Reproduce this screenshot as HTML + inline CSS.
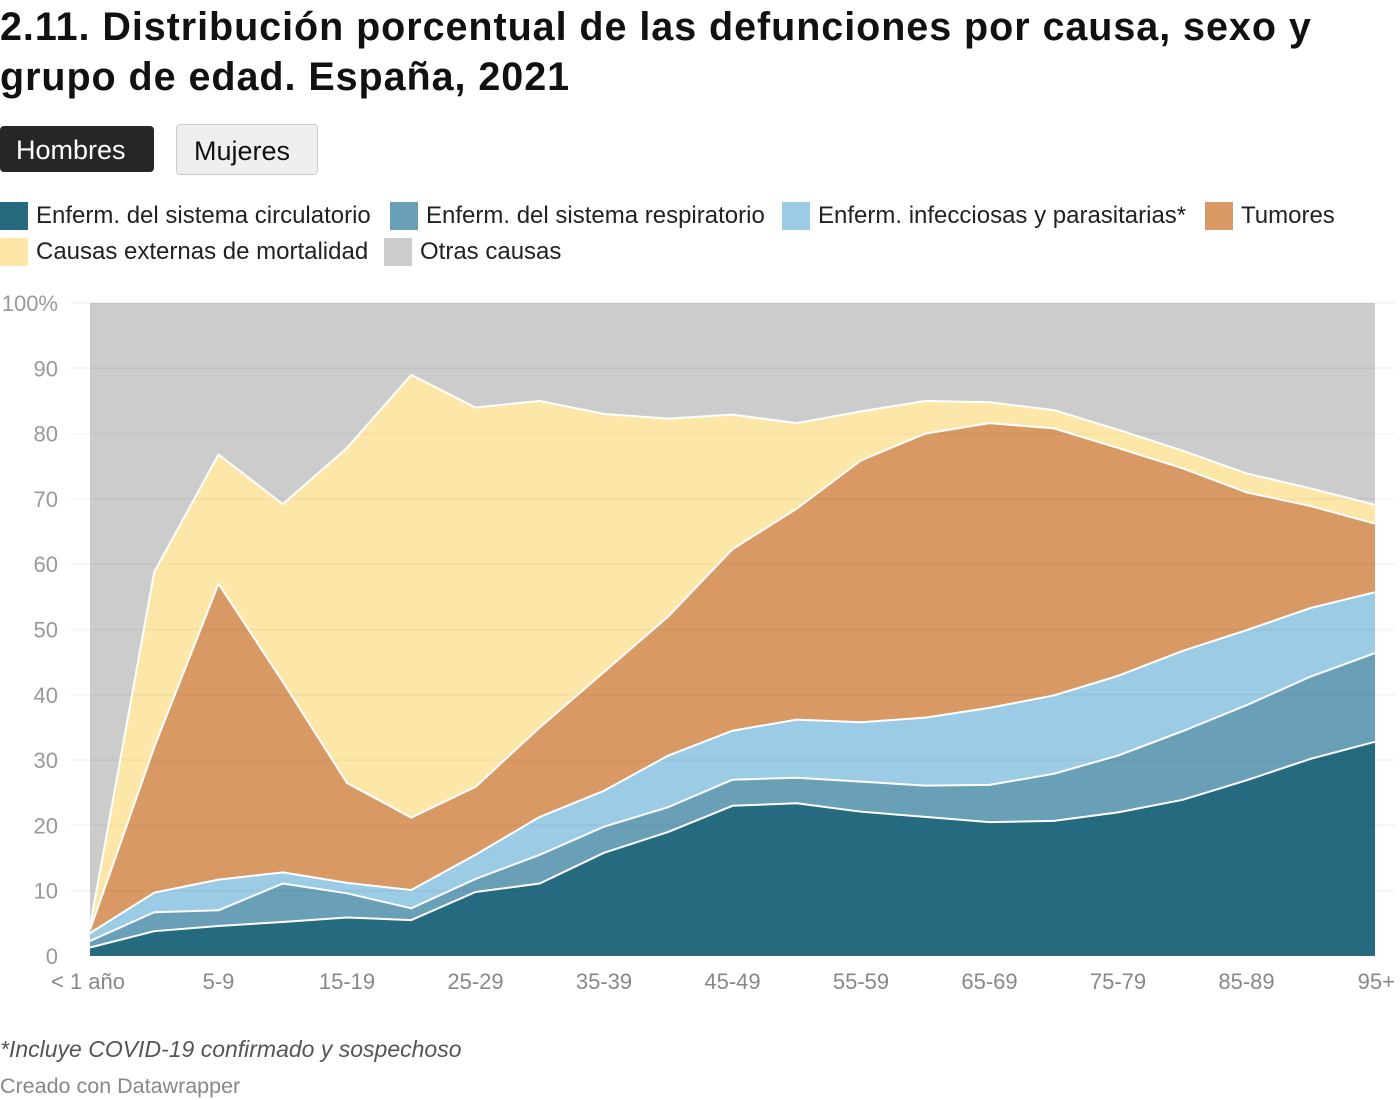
<!DOCTYPE html>
<html><head><meta charset="utf-8"><style>
body{margin:0;width:1400px;height:1100px;background:#fff;font-family:"Liberation Sans",sans-serif;position:relative;overflow:hidden}
.abs{position:absolute}
h1{position:absolute;left:0;top:2px;margin:0;font-size:39.5px;letter-spacing:0.95px;line-height:50px;font-weight:bold;color:#111;width:1400px;white-space:nowrap}
.btn{position:absolute;top:126px;height:46px;font-size:27px;line-height:48px;border-radius:4px;box-sizing:border-box;padding-left:16px}
.leg{position:absolute;font-size:24px;color:#222;height:30px;line-height:30px;white-space:nowrap}
.sw{position:absolute;left:0;top:1px;width:28px;height:28px}
</style></head><body>
<h1>2.11. Distribución porcentual de las defunciones por causa, sexo y<br>grupo de edad. España, 2021</h1>
<div class="btn" style="left:0;width:154px;background:#262626;color:#fff">Hombres</div>
<div class="btn" style="left:176px;width:142px;background:#efefef;border:1px solid #ccc;color:#111;top:124px;height:51px;line-height:53px;padding-left:17px">Mujeres</div>
<div id="legend"></div>
<svg id="chart" class="abs" style="left:0;top:0" width="1400" height="1100"></svg>
<div class="abs" style="left:0;top:1036px;font-size:23px;font-style:italic;color:#555">*Incluye COVID-19 confirmado y sospechoso</div>
<div class="abs" style="left:0;top:1074px;font-size:21.5px;color:#888">Creado con Datawrapper</div>
<script>
const categories=["< 1 año","1-4","5-9","10-14","15-19","20-24","25-29","30-34","35-39","40-44","45-49","50-54","55-59","60-64","65-69","70-74","75-79","80-84","85-89","90-94","95+"];
const circulatorio=[1.3,3.8,4.6,5.2,5.9,5.5,9.8,11.1,15.8,19.0,23.0,23.4,22.1,21.3,20.5,20.7,22.0,23.9,26.9,30.2,32.8];
const respiratorio=[1.0,2.9,2.4,5.9,3.7,1.8,2.0,4.4,4.0,3.8,4.0,3.9,4.6,4.8,5.7,7.2,8.7,10.5,11.5,12.6,13.6];
const infecciosas=[1.2,3.0,4.7,1.7,1.6,2.8,3.7,5.8,5.5,7.9,7.5,8.9,9.1,10.4,11.8,12.0,12.2,12.3,11.5,10.5,9.3];
const tumores=[0.5,22.3,45.3,29.2,15.3,11.1,10.4,13.7,18.2,21.3,27.8,32.3,40.1,43.5,43.6,40.9,34.9,28.0,21.1,15.6,10.5];
const externas=[0.5,26.8,19.8,27.2,51.3,67.8,58.1,50.0,39.5,30.3,20.6,13.1,7.5,5.0,3.2,2.8,2.8,2.7,2.9,2.7,2.9];
const otras=categories.map((c,i)=>100-circulatorio[i]-respiratorio[i]-infecciosas[i]-tumores[i]-externas[i]);
const yTicks=[0,10,20,30,40,50,60,70,80,90,100];
const xLabelIdx=[0,2,4,6,8,10,12,14,16,18,20];
const seriesNames=["Enferm. del sistema circulatorio","Enferm. del sistema respiratorio","Enferm. infecciosas y parasitarias*","Tumores","Causas externas de mortalidad","Otras causas"];
const seriesKeys=["circulatorio","respiratorio","infecciosas","tumores","externas","otras"];
const colors=["#266a80","#6a9fb8","#9ccbe6","#d99964","#fde7a8","#cccccc"];
const series=[circulatorio,respiratorio,infecciosas,tumores,externas,otras];

const X0=90,X1=1375,Y0=956,Y1=303;
const x=i=>X0+(X1-X0)*i/(categories.length-1);
const y=v=>Y0-(Y0-Y1)*v/100;
const NS="http://www.w3.org/2000/svg";
const svg=document.getElementById('chart');
function mk(t,a){const e=document.createElementNS(NS,t);for(const k in a)e.setAttribute(k,a[k]);svg.appendChild(e);return e;}

let base=categories.map(()=>0);
series.forEach((s,si)=>{
  const top=base.map((b,i)=>b+s[i]);
  let d="M"+categories.map((c,i)=>x(i)+","+y(top[i])).join("L");
  for(let i=categories.length-1;i>=0;i--)d+="L"+x(i)+","+y(base[i]);
  const p=mk('path',{d:d+"Z",fill:colors[si]});
  
  
  base=top;
});
yTicks.forEach(t=>{
  const l=mk('line',{x1:71,x2:1395,y1:y(t),y2:y(t),stroke:"#000","stroke-opacity":t===0?0:0.035,"stroke-width":2});
  
  
  const tx=mk('text',{x:58,y:y(t)+8,"text-anchor":"end","font-size":22,fill:"#999","font-family":"Liberation Sans, sans-serif"});
  tx.textContent=t===100?"100%":String(t);
  
  
});
base=categories.map(()=>0);
series.slice(0,5).forEach((s,si)=>{
  const top=base.map((b,i)=>b+s[i]);
  const l=mk('polyline',{points:categories.map((c,i)=>x(i)+","+y(top[i])).join(" "),fill:"none",stroke:"#fff","stroke-width":2,"stroke-linejoin":"round"});
  
  
  base=top;
});
xLabelIdx.forEach((i,k)=>{
  const anchor=i===0?"start":(i===categories.length-1?"end":"middle");
  const tx=mk('text',{x:i===0?51:(i===categories.length-1?1395:x(i)),y:989,"text-anchor":anchor,"font-size":22,fill:"#888","font-family":"Liberation Sans, sans-serif"});
  tx.textContent=categories[i];
  
  
});
const legPos=[[0,201],[390,201],[782,201],[1205,201],[0,237],[384,237]];
const lg=document.getElementById('legend');
seriesNames.forEach((n,i)=>{
  const e=document.createElement('div');e.className='leg';
  e.style.left=legPos[i][0]+'px';e.style.top=legPos[i][1]+'px';
  e.innerHTML='<span class="sw" style="background:'+colors[i]+'"></span><span style="margin-left:36px">'+n+'</span>';
  
  
  lg.appendChild(e);
});
</script>
</body></html>
